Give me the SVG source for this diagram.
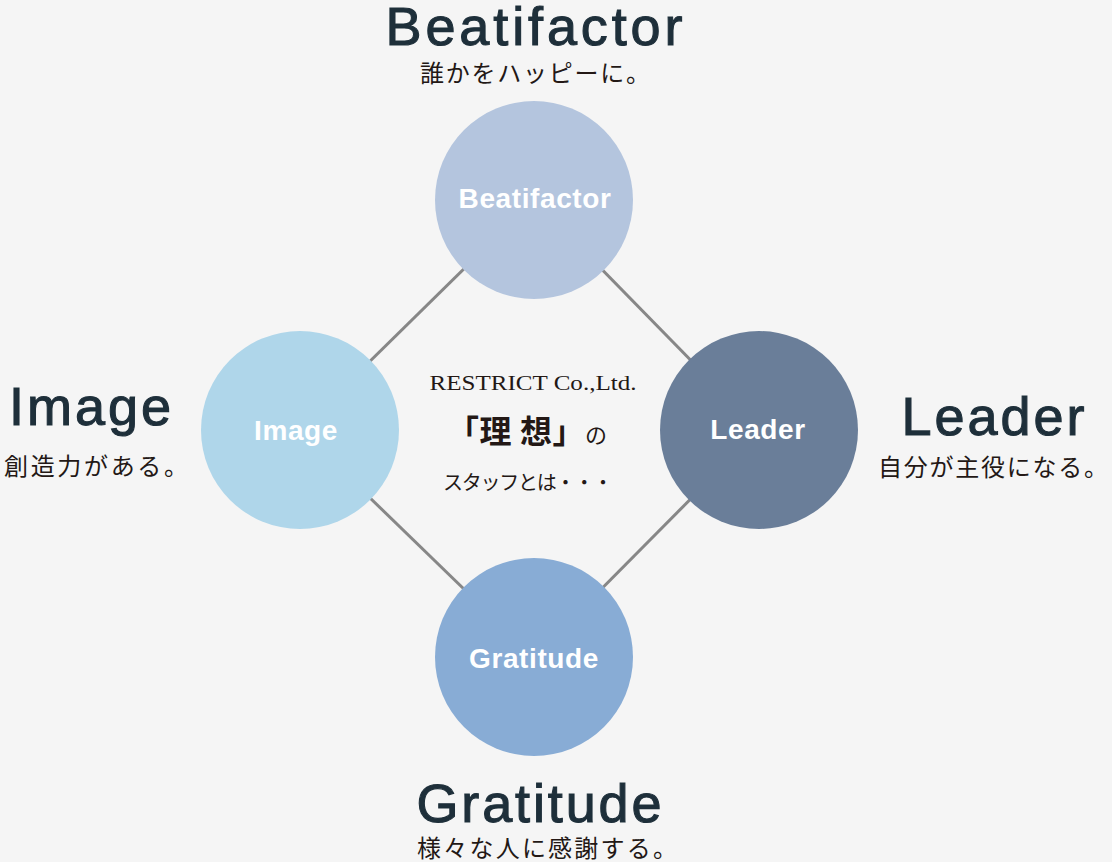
<svg xmlns="http://www.w3.org/2000/svg" width="1112" height="862" viewBox="0 0 1112 862">
<style>
.bg{fill:#f5f5f5}
.ln{stroke:#878787;stroke-width:3;fill:none}
.en{font-family:"Liberation Sans",Arial,sans-serif;fill:#1e2f3a;stroke:#1e2f3a;stroke-width:1.1px;font-size:54px;text-anchor:middle}
.jp{font-family:"Noto Sans CJK JP",sans-serif;fill:#231815;font-size:24px;letter-spacing:2px;text-anchor:middle}
.lb{font-family:"Liberation Sans",Arial,sans-serif;font-weight:bold;fill:#ffffff;font-size:28px;letter-spacing:0.6px;text-anchor:middle}
.ct{font-family:"Liberation Serif","Noto Sans CJK JP",serif;fill:#231815;text-anchor:middle}
</style>
<rect class="bg" x="0" y="0" width="1112" height="862"/>
<g id="connectors">
<line class="ln" x1="534" y1="200" x2="300" y2="430"/>
<line class="ln" x1="534" y1="200" x2="759" y2="430"/>
<line class="ln" x1="300" y1="430" x2="534" y2="657"/>
<line class="ln" x1="759" y1="430" x2="534" y2="657"/>
</g>
<g id="beatifactor">
<circle cx="534" cy="200" r="99" fill="#b4c5de"/>
<text class="lb" x="535" y="208">Beatifactor</text>
<text class="en" x="534" y="45" textLength="297" lengthAdjust="spacing">Beatifactor</text>
<text class="jp" x="536" y="82" textLength="232" lengthAdjust="spacing">誰かをハッピーに。</text>
</g>
<g id="image">
<circle cx="300" cy="430" r="99" fill="#afd6ea"/>
<text class="lb" x="296" y="440">Image</text>
<text class="en" x="90" y="425" textLength="162" lengthAdjust="spacing">Image</text>
<text class="jp" x="97" y="475" textLength="186" lengthAdjust="spacing">創造力がある。</text>
</g>
<g id="leader">
<circle cx="759" cy="430" r="99" fill="#6a7e99"/>
<text class="lb" x="758" y="439">Leader</text>
<text class="en" x="993" y="435" textLength="183" lengthAdjust="spacing">Leader</text>
<text class="jp" x="994" y="476" textLength="232" lengthAdjust="spacing">自分が主役になる。</text>
</g>
<g id="gratitude">
<circle cx="534" cy="657" r="99" fill="#88acd5"/>
<text class="lb" x="534" y="668">Gratitude</text>
<text class="en" x="539" y="822" textLength="245" lengthAdjust="spacing">Gratitude</text>
<text class="jp" x="548" y="857" font-size="23" textLength="262" lengthAdjust="spacing">様々な人に感謝する。</text>
</g>
<g id="center">
<text class="ct" x="533" y="390" font-size="22" textLength="207" lengthAdjust="spacingAndGlyphs">RESTRICT Co.,Ltd.</text>
<text class="ct" x="527" y="443" font-size="32" font-weight="bold" style="font-family:'Noto Sans CJK JP',sans-serif" textLength="160" lengthAdjust="spacing">「理 想」<tspan font-size="22" font-weight="normal">の</tspan></text>
<text class="ct" x="528" y="490" font-size="20" style="font-family:'Noto Sans CJK JP',sans-serif" textLength="170" lengthAdjust="spacing">スタッフとは・・・</text>
</g>
</svg>
